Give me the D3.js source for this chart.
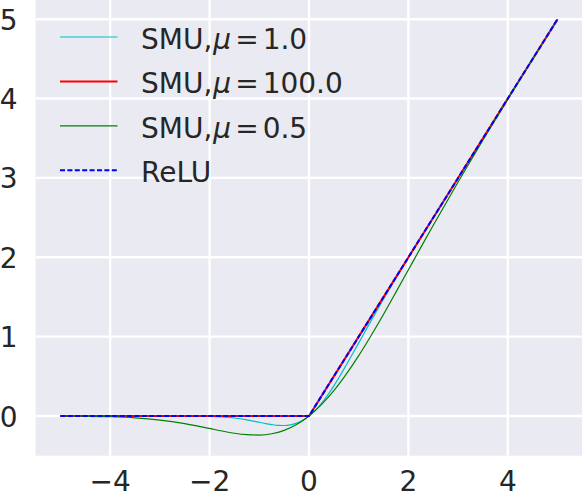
<!DOCTYPE html>
<html>
<head>
<meta charset="utf-8">
<script src="https://cdn.jsdelivr.net/npm/d3@7"></script>
<style>
  body { margin: 0; background: #fff; }
  svg { display: block; }
  text { font-family: "DejaVu Sans", sans-serif; fill: #262626; }
</style>
</head>
<body>
<svg id="board" width="582" height="498"></svg>
<script>
// values
let xTicks = [-4, -2, 0, 2, 4]
let yTicks = [0, 1, 2, 3, 4, 5]

// SMU, mu = 1.0 (cyan)
let smu1X = [-5, -4, -3, -2.5, -2, -1.75, -1.5, -1.25, -1, -0.875, -0.75, -0.625, -0.5, -0.375, -0.25, -0.125, 0,
    0.125, 0.25, 0.375, 0.5, 0.625, 0.75, 1, 1.25, 1.5, 1.75, 2, 2.5, 3, 4, 5]
let smu1Y = [0, 0, 0, 0, -0.005, -0.012, -0.025, -0.048, -0.079, -0.095, -0.108, -0.118, -0.12, -0.112, -0.09, -0.054, 0,
    0.071, 0.16, 0.263, 0.38, 0.507, 0.642, 0.921, 1.202, 1.475, 1.738, 1.995, 2.5, 3, 4, 5]

// SMU, mu = 100.0 (red)
let smu100X = [-5, -4, -3, -2, -1, 0, 1, 2, 3, 4, 5]
let smu100Y = [0, 0, 0, 0, 0, 0, 1, 2, 3, 4, 5]

// SMU, mu = 0.5 (green)
let smu05X = [-5, -4.5, -4, -3.5, -3, -2.5, -2, -1.75, -1.5, -1.25, -1, -0.75, -0.5, -0.25, 0,
    0.25, 0.5, 0.75, 1, 1.25, 1.5, 1.75, 2, 2.25, 2.5, 3, 3.5, 4, 4.5, 5]
let smu05Y = [0, -0.003, -0.009, -0.023, -0.051, -0.096, -0.157, -0.189, -0.217, -0.235, -0.24, -0.224, -0.181, -0.108, 0,
    0.143, 0.319, 0.527, 0.76, 1.015, 1.283, 1.561, 1.843, 2.125, 2.404, 2.949, 3.477, 3.991, 4.497, 5]

// ReLU (blue dashed)
let reluX = [-5, -4, -3, -2, -1, 0, 1, 2, 3, 4, 5]
let reluY = [0, 0, 0, 0, 0, 0, 1, 2, 3, 4, 5]

let board = d3.select('#board')

let xScale = d3.scaleLinear().domain([-5.5, 5.5]).range([35.6, 582.4])
let yScale = d3.scaleLinear().domain([0, 5]).range([416, 19.2])

// axes background
board.append('rect')
    .attr('x', xScale(-5.5))
    .attr('y', 0)
    .attr('width', xScale(5.5) - xScale(-5.5))
    .attr('height', yScale(-0.5))
    .attr('fill', '#eaeaf2')

// grid
board.selectAll('.vgrid')
    .data(xTicks)
    .enter()
    .append('line')
    .attr('x1', d => xScale(d))
    .attr('x2', d => xScale(d))
    .attr('y1', 0)
    .attr('y2', yScale(-0.5))
    .attr('stroke', '#fff')
    .attr('stroke-width', 2.4)

board.selectAll('.hgrid')
    .data(yTicks)
    .enter()
    .append('line')
    .attr('x1', xScale(-5.5))
    .attr('x2', xScale(5.5))
    .attr('y1', d => yScale(d))
    .attr('y2', d => yScale(d))
    .attr('stroke', '#fff')
    .attr('stroke-width', 2.4)

// tick labels
board.selectAll('.ytick')
    .data(yTicks)
    .enter()
    .append('text')
    .attr('x', 17.5)
    .attr('y', d => yScale(d) + 10.5)
    .attr('text-anchor', 'end')
    .attr('font-size', 28)
    .text(d => d)

board.selectAll('.xtick')
    .data(xTicks)
    .enter()
    .append('text')
    .attr('x', d => xScale(d))
    .attr('y', 491)
    .attr('text-anchor', 'middle')
    .attr('font-size', 28)
    .text(d => d < 0 ? '\u2212' + Math.abs(d) : d)

// curves
let series = [
    { label: '1.0', xs: smu1X, ys: smu1Y, color: '#00bfbf', width: 1.2, dash: null, curve: d3.curveMonotoneX },
    { label: '100.0', xs: smu100X, ys: smu100Y, color: '#ff0000', width: 2, dash: null, curve: d3.curveLinear },
    { label: '0.5', xs: smu05X, ys: smu05Y, color: '#008000', width: 1.2, dash: null, curve: d3.curveMonotoneX },
    { label: 'ReLU', xs: reluX, ys: reluY, color: '#0000ff', width: 2, dash: '5,2.4', curve: d3.curveLinear }
]

series.forEach(s => {
    let line = d3.line()
        .x(d => xScale(d[0]))
        .y(d => yScale(d[1]))
        .curve(s.curve)
    board.append('path')
        .datum(s.xs.map((x, i) => [x, s.ys[i]]))
        .attr('d', line)
        .attr('fill', 'none')
        .attr('stroke', s.color)
        .attr('stroke-width', s.width)
        .attr('stroke-dasharray', s.dash)
})

// legend
let legend = board.append('g')
series.forEach((s, i) => {
    let ly = 37 + i * 44.4
    legend.append('line')
        .attr('x1', 60)
        .attr('x2', 117.5)
        .attr('y1', ly)
        .attr('y2', ly)
        .attr('stroke', s.color)
        .attr('stroke-width', s.width)
        .attr('stroke-dasharray', s.dash)
    let t = legend.append('text')
        .attr('x', 141)
        .attr('y', ly + 12)
        .attr('font-size', 28)
    if (s.label === 'ReLU') {
        t.text('ReLU')
    } else {
        t.append('tspan').text('SMU,')
        t.append('tspan').attr('font-style', 'italic').attr('dx', 1).text('\u03bc')
        t.append('tspan').attr('dx', 4).text('=')
        t.append('tspan').attr('dx', 4).text(s.label)
    }
})
</script>
</body>
</html>
